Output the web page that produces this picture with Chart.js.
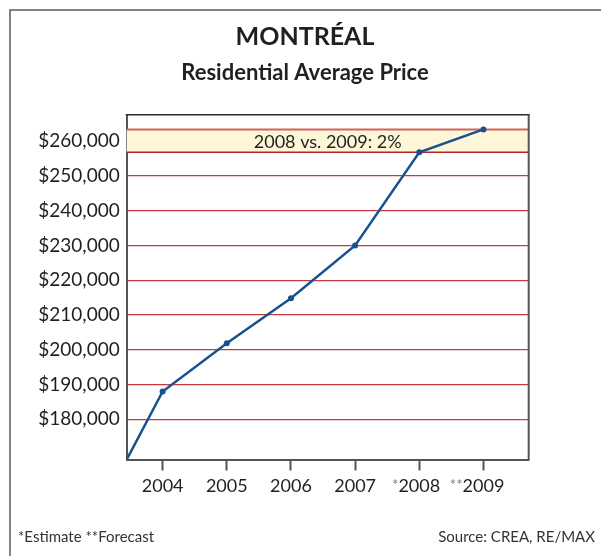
<!DOCTYPE html>
<html>
<head>
<meta charset="utf-8">
<script src="https://cdn.jsdelivr.net/npm/chart.js@4.4.1/dist/chart.umd.min.js"></script>
<style>
  html, body { margin: 0; padding: 0; background: #ffffff; }
  #wrap { position: relative; width: 601px; height: 556px; }
  canvas { display: block; }
</style>
</head>
<body>
<div id="wrap"><canvas id="c" width="601" height="556"></canvas></div>
<script>
// ---- Data ----
const years = [2003, 2004, 2005, 2006, 2007, 2008, 2009];
const prices = [153000, 188000, 201900, 214800, 230000, 256800, 263400];
const xTickYears = [2004, 2005, 2006, 2007, 2008, 2009];
const xTickMarks = ['', '', '', '', '*', '**'];
const yTickValues = [180000, 190000, 200000, 210000, 220000, 230000, 240000, 250000, 260000];
const titleText = 'MONTRÉAL';
const subtitleText = 'Residential Average Price';
const bandText = '2008 vs. 2009: 2%';
const bandFromYear = 2008;
const bandToYear = 2009;
const footLeft = '*Estimate **Forecast';
const footRight = 'Source: CREA, RE/MAX';

const FONT = 'Lato, "Open Sans", sans-serif';
const TEXT = '#231f20';

const decorPlugin = {
  id: 'decor',
  beforeDatasetsDraw(chart) {
    const { ctx, chartArea: a, scales: { y } } = chart;
    const v1 = prices[years.indexOf(bandFromYear)];
    const v2 = prices[years.indexOf(bandToYear)];
    const yTop = y.getPixelForValue(Math.max(v1, v2));
    const yBot = y.getPixelForValue(Math.min(v1, v2));
    ctx.save();
    ctx.fillStyle = '#fdf7d8';
    ctx.fillRect(a.left, yTop, a.right - a.left, yBot - yTop);
    ctx.strokeStyle = '#d4625c';
    ctx.lineWidth = 2;
    ctx.beginPath(); ctx.moveTo(a.left, yTop); ctx.lineTo(a.right, yTop); ctx.stroke();
    ctx.strokeStyle = '#b8212a';
    ctx.lineWidth = 1.5;
    ctx.beginPath(); ctx.moveTo(a.left, yBot); ctx.lineTo(a.right, yBot); ctx.stroke();
    ctx.fillStyle = TEXT;
    ctx.font = '18px ' + FONT;
    ctx.textAlign = 'center';
    ctx.textBaseline = 'middle';
    ctx.fillText(bandText, (a.left + a.right) / 2, (yTop + yBot) / 2 + 1);
    ctx.restore();
  },
  afterDraw(chart) {
    const { ctx, chartArea: a, scales: { x } } = chart;
    ctx.save();
    // outer frame
    ctx.strokeStyle = '#5a5a5a';
    ctx.lineWidth = 1.5;
    ctx.beginPath();
    ctx.moveTo(10, 560); ctx.lineTo(10, 10); ctx.lineTo(610, 10);
    ctx.stroke();
    // plot frame top and right
    ctx.strokeStyle = '#2a2a2a';
    ctx.lineWidth = 1.5;
    ctx.beginPath(); ctx.moveTo(a.left - 1, a.top); ctx.lineTo(a.right + 1, a.top); ctx.stroke();
    ctx.strokeStyle = '#555555';
    ctx.lineWidth = 2;
    ctx.beginPath(); ctx.moveTo(a.right, a.top); ctx.lineTo(a.right, a.bottom + 1); ctx.stroke();
    // titles
    ctx.fillStyle = TEXT;
    ctx.textAlign = 'center';
    ctx.textBaseline = 'alphabetic';
    ctx.font = 'bold 25px ' + FONT;
    ctx.fillText(titleText, 305, 45);
    ctx.font = 'bold 22px ' + FONT;
    ctx.fillText(subtitleText, 305, 80);
    // asterisk marks on x tick labels
    xTickYears.forEach((yr, i) => {
      const m = xTickMarks[i];
      if (!m) return;
      const px = x.getPixelForValue(yr);
      ctx.font = '18px ' + FONT;
      const w = ctx.measureText(String(yr)).width;
      ctx.font = '15px ' + FONT;
      ctx.fillStyle = '#7a7a7a';
      ctx.textAlign = 'right';
      ctx.fillText(m, px - w / 2, 490);
    });
    // footer
    ctx.font = '15px ' + FONT;
    ctx.fillStyle = '#333333';
    ctx.textAlign = 'left';
    ctx.fillText(footLeft, 18, 542);
    ctx.textAlign = 'right';
    ctx.fillText(footRight, 595, 542);
    ctx.restore();
  }
};

new Chart(document.getElementById('c'), {
  type: 'line',
  data: {
    datasets: [{
      data: years.map((yr, i) => ({ x: yr, y: prices[i] })),
      borderColor: '#18528e',
      backgroundColor: '#18528e',
      borderWidth: 2.5,
      pointRadius: 3,
      pointHoverRadius: 3,
      pointBackgroundColor: '#18528e',
      pointBorderWidth: 0,
      tension: 0,
      clip: 0
    }]
  },
  options: {
    responsive: false,
    animation: false,
    events: [],
    layout: { padding: { top: 114.7, right: 72.3, left: 0, bottom: 0 } },
    plugins: {
      legend: { display: false },
      tooltip: { enabled: false },
      title: { display: false }
    },
    scales: {
      x: {
        type: 'linear',
        min: 2003.44,
        max: 2009.705,
        afterFit(s) { s.height = 96.5; },
        afterBuildTicks(s) { s.ticks = xTickYears.map(v => ({ value: v })); },
        grid: {
          drawOnChartArea: false,
          drawTicks: true,
          tickLength: 11,
          tickColor: '#555555',
          tickWidth: 2
        },
        border: { display: true, color: '#555555', width: 2 },
        ticks: {
          autoSkip: false,
          maxRotation: 0,
          padding: 5,
          color: TEXT,
          font: { family: FONT, size: 18 },
          callback: (v) => String(v)
        }
      },
      y: {
        type: 'linear',
        min: 168435,
        max: 267630,
        afterFit(s) { s.width = 126.7; },
        afterBuildTicks(s) { s.ticks = yTickValues.map(v => ({ value: v })); },
        grid: {
          drawTicks: false,
          color: (c) => (c.tick && c.tick.value === 260000) ? 'rgba(0,0,0,0)' : '#c83a42',
          lineWidth: 1.2
        },
        border: { display: true, color: '#555555', width: 2 },
        ticks: {
          padding: 7,
          color: TEXT,
          font: { family: FONT, size: 19 },
          callback: (v) => '$' + Number(v).toLocaleString('en-US')
        }
      }
    }
  },
  plugins: [decorPlugin]
});
</script>
</body>
</html>
